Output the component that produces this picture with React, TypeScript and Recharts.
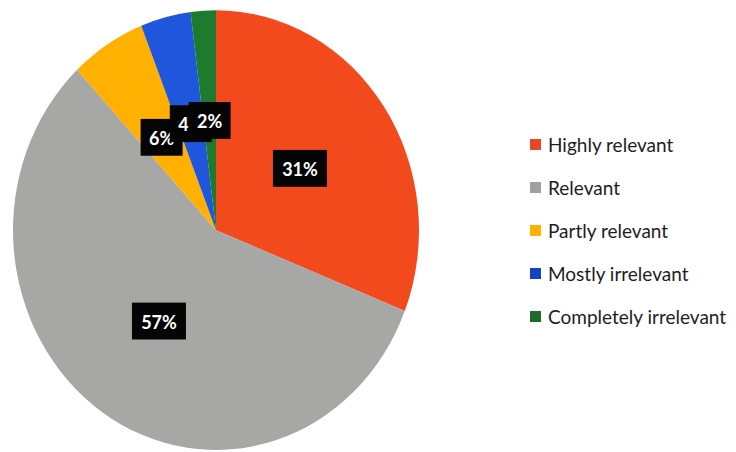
import { PieChart, Pie, Cell } from "recharts";

const categories = [
  "Highly relevant",
  "Relevant",
  "Partly relevant",
  "Mostly irrelevant",
  "Completely irrelevant",
];
const shares = [31, 57, 6, 4, 2];
const sliceColors = ["#f24a1c", "#a7a8a6", "#ffb000", "#1f56dc", "#1e7a2c"];
const legendColors = ["#e8482a", "#9ea19e", "#ffb000", "#1642c8", "#1f6b2a"];

const data = categories.map((name, i) => ({ name, value: shares[i] }));

const RADIAN = Math.PI / 180;

const BoxLabel = (props: any) => {
  const { cx, cy, midAngle, outerRadius, value } = props;
  const r = outerRadius * 0.5;
  const x = cx + r * Math.cos(-midAngle * RADIAN);
  const y = cy + r * Math.sin(-midAngle * RADIAN);
  const text = `${value}%`;
  const w = text.length * 12 + 18;
  const h = 34;
  return (
    <g>
      <rect x={x - w / 2} y={y - h / 2} width={w} height={h} fill="#050505" />
      <text
        x={x}
        y={y}
        fill="#fff"
        textAnchor="middle"
        dominantBaseline="central"
        fontFamily="Lato, sans-serif"
        fontWeight="bold"
        fontSize={18}
      >
        {text}
      </text>
    </g>
  );
};

export default function App() {
  return (
    <div style={{ position: "fixed", left: 0, top: 0, width: 736, height: 452, background: "#fff", overflow: "hidden" }}>
      {/* photo of the slide is a bit taller than wide, so stretch the pie */}
      <div style={{ position: "absolute", left: 0, top: 0, transform: "scaleY(1.083)", transformOrigin: "0 0" }}>
        <PieChart width={440} height={420}>
          <Pie
            data={data}
            dataKey="value"
            cx={211}
            cy={207.5}
            outerRadius={203}
            startAngle={90}
            endAngle={-270}
            stroke="none"
            labelLine={false}
            label={BoxLabel}
            isAnimationActive={false}
          >
            {data.map((entry, index) => (
              <Cell key={`cell-${index}`} fill={sliceColors[index]} />
            ))}
          </Pie>
        </PieChart>
      </div>

      {/* Legend */}
      <div style={{ position: "absolute", left: 530, top: 123, fontFamily: "Lato, sans-serif", fontSize: 19, color: "#1e1e1e" }}>
        {categories.map((name, i) => (
          <div key={name} style={{ display: "flex", alignItems: "center", height: 43 }}>
            <span style={{ width: 11, height: 11, background: legendColors[i], marginRight: 7 }} />
            <span>{name}</span>
          </div>
        ))}
      </div>
    </div>
  );
}
